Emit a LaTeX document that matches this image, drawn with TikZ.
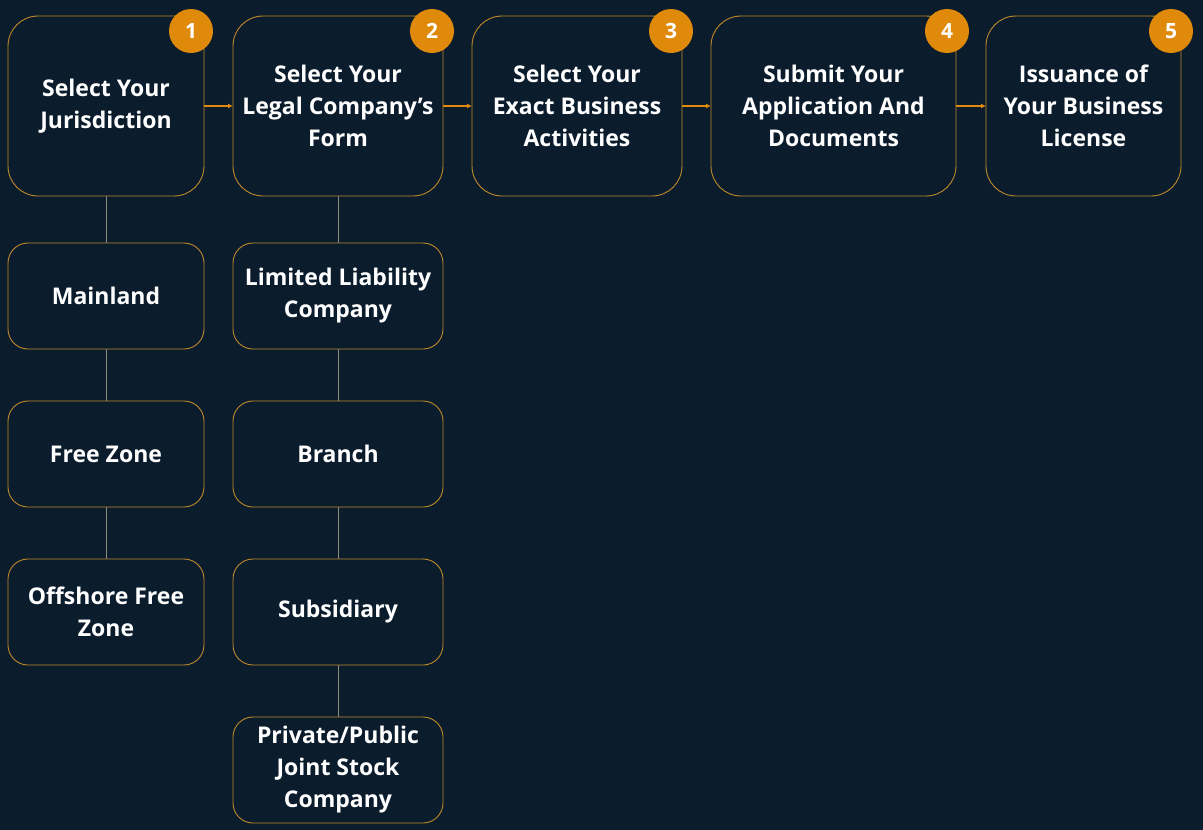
\documentclass[tikz,border=0pt]{standalone}
\usepackage{fontspec}
\setmainfont{Open Sans}
\usetikzlibrary{arrows.meta}
\definecolor{bg}{HTML}{0B1C2C}
\definecolor{gold}{HTML}{C08A2A}
\definecolor{badge}{HTML}{E08A0C}
\definecolor{conn}{HTML}{8C8A7A}
\begin{document}
\begin{tikzpicture}[x=1pt,y=-1pt,
  box/.style={draw=gold,line width=0.9pt,fill=bg,text=white,outer sep=0pt,inner sep=2pt,
     font=\bfseries\fontsize{23}{32}\selectfont,align=center},
  topbox/.style={box,rounded corners=30pt,minimum height=180pt,minimum width=#1},
  subbox/.style={box,rounded corners=20pt,minimum height=106pt,minimum width=#1},
  badgec/.style={circle,fill=badge,text=white,minimum size=44pt,inner sep=0pt,
     font=\bfseries\fontsize{21}{24}\selectfont},
  flow/.style={draw=badge,line width=1.2pt,-{Latex[length=5pt,width=5pt]}},
  vline/.style={draw=conn,line width=0.9pt}]
\fill[bg] (0,0) rectangle (1203,830);
\useasboundingbox (0,0) rectangle (1203,830);
% top boxes
\node[topbox=196pt] (s1) at (106,106) {Select Your\\Jurisdiction};
\node[topbox=210pt] (s2) at (338,106) {Select Your\\Legal Company’s\\Form};
\node[topbox=210pt] (s3) at (577,106) {Select Your\\Exact Business\\Activities};
\node[topbox=245pt] (s4) at (833.5,106) {Submit Your\\Application And\\Documents};
\node[topbox=195pt] (s5) at (1083.5,106) {Issuance of\\Your Business\\License};
\draw[flow] (s1.east) -- (s2.west);
\draw[flow] (s2.east) -- (s3.west);
\draw[flow] (s3.east) -- (s4.west);
\draw[flow] (s4.east) -- (s5.west);
% badges
\node[badgec] (b1) at (191,31) {1};
\node[badgec] (b2) at (432,31) {2};
\node[badgec] (b3) at (671,31) {3};
\node[badgec] (b4) at (947,31) {4};
\node[badgec] (b5) at (1171,31) {5};
% column 1
\node[subbox=196pt] (m1) at (106,296) {Mainland};
\node[subbox=196pt] (m2) at (106,454) {Free Zone};
\node[subbox=196pt] (m3) at (106,612) {Offshore Free\\Zone};
\draw[vline] (s1.south) -- (m1.north);
\draw[vline] (m1.south) -- (m2.north);
\draw[vline] (m2.south) -- (m3.north);
% column 2
\node[subbox=210pt] (f1) at (338,296) {Limited Liability\\Company};
\node[subbox=210pt] (f2) at (338,454) {Branch};
\node[subbox=210pt] (f3) at (338,612) {Subsidiary};
\node[subbox=210pt] (f4) at (338,770) {Private/Public\\Joint Stock\\Company};
\draw[vline] (s2.south) -- (f1.north);
\draw[vline] (f1.south) -- (f2.north);
\draw[vline] (f2.south) -- (f3.north);
\draw[vline] (f3.south) -- (f4.north);
\end{tikzpicture}
\end{document}
